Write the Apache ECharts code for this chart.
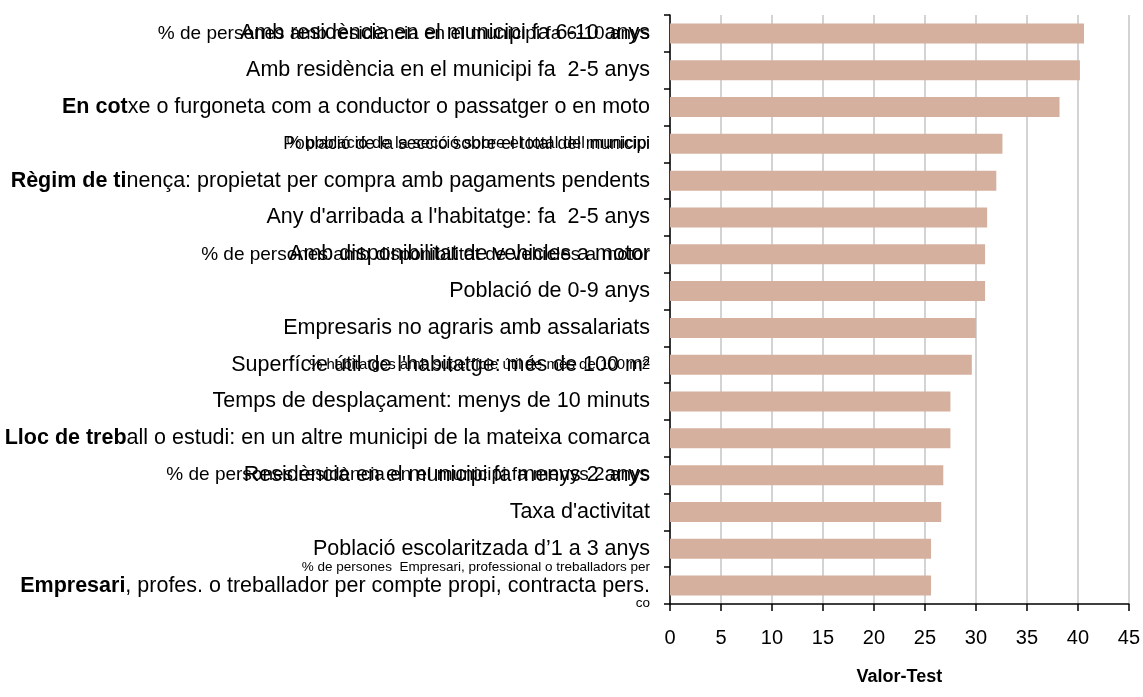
<!DOCTYPE html>
<html>
<head>
<meta charset="utf-8">
<script src="https://cdn.jsdelivr.net/npm/echarts@6/dist/echarts.min.js"></script>
<style>
  html, body { margin: 0; padding: 0; background: #fff; }
  #chart { width: 1143px; height: 697px; }
</style>
</head>
<body>
<div id="chart"></div>
<script>
// categories, top to bottom
var categories = [
  'Amb residència en el municipi fa 6-10 anys',
  'Amb residència en el municipi fa  2-5 anys',
  'En cotxe o furgoneta com a conductor o passatger o en moto',
  'Població de la secció sobre el total del municipi',
  'Règim de tinença: propietat per compra amb pagaments pendents',
  "Any d'arribada a l'habitatge: fa  2-5 anys",
  'Amb disponibilitat de vehicles a motor',
  'Població de 0-9 anys',
  'Empresaris no agraris amb assalariats',
  "Superfície útil de l'habitatge: més de 100 m²",
  'Temps de desplaçament: menys de 10 minuts',
  'Lloc de treball o estudi: en un altre municipi de la mateixa comarca',
  'Residència en el municipi fa menys 2 anys',
  "Taxa d'activitat",
  'Població escolaritzada d’1 a 3 anys',
  'Empresari, profes. o treballador per compte propi, contracta pers.'
];
// second label layer that sits under the main labels
var subLabels = [
  '% de persones amb residència en el municipi fa 6-10 anys',
  '',
  '',
  '% població de la secció sobre el total del municipi',
  '',
  '',
  '% de persones amb disponibilitat de vehicles a motor',
  '',
  '',
  '% habitatges amb superfície útil de més de 100 m2',
  '',
  '',
  '% de persones residència en el municipi fa menys 2 anys',
  '',
  '',
  '% de persones  Empresari, professional o treballadors per\nco'
];
var values = [40.6, 40.2, 38.2, 32.6, 32.0, 31.1, 30.9, 30.9, 30.0, 29.6, 27.5, 27.5, 26.8, 26.6, 25.6, 25.6];
var xTicks = [0, 45, 5];

var boldStart = { 2: 6, 4: 11, 11: 12, 15: 9 };
var bigSmall = { 3: 1 };
var subSmall = { 3: 'm', 9: 's', 15: 'x' };
var font = "'Liberation Sans', Arial, sans-serif";

var chart = echarts.init(document.getElementById('chart'));
var option = {
  animation: false,
  grid: { left: 670, right: 12, top: 15, bottom: 93, containLabel: false },
  xAxis: {
    type: 'value',
    min: xTicks[0],
    max: xTicks[1],
    interval: xTicks[2],
    name: 'Valor-Test',
    nameLocation: 'middle',
    nameGap: 64,
    nameTextStyle: { fontFamily: font, fontSize: 18, fontWeight: 'bold', color: '#000' },
    axisLine: { show: true, lineStyle: { color: '#000', width: 1.5 } },
    axisTick: { show: true, length: 7, lineStyle: { color: '#000', width: 1.5 } },
    axisLabel: { fontFamily: font, fontSize: 20, color: '#000', margin: 24 },
    splitLine: { show: true, lineStyle: { color: '#c4c4c4', width: 1.5 } }
  },
  yAxis: [
    {
      type: 'category',
      inverse: true,
      data: categories,
      axisLine: { show: true, lineStyle: { color: '#000', width: 1.5 } },
      axisTick: { show: true, inside: false, length: 6, lineStyle: { color: '#000', width: 1.5 } },
      axisLabel: {
        margin: 20,
        interval: 0,
        fontFamily: font,
        fontSize: 21.5,
        color: '#000',
        formatter: function (v, i) {
          var n = boldStart[i];
          if (n) return '{b|' + v.slice(0, n) + '}' + v.slice(n);
          if (bigSmall[i]) return '{m|' + v + '}';
          return v;
        },
        rich: {
          b: { fontFamily: font, fontSize: 21.5, fontWeight: 'bold', color: '#000' },
          m: { fontFamily: font, fontSize: 17.5, color: '#000' }
        }
      }
    },
    {
      type: 'category',
      inverse: true,
      position: 'left',
      data: subLabels,
      axisLine: { show: false },
      axisTick: { show: false },
      splitLine: { show: false },
      axisLabel: {
        margin: 20,
        interval: 0,
        fontFamily: font,
        fontSize: 19,
        color: '#000',
        formatter: function (v, i) {
          if (!v) return '';
          var k = subSmall[i];
          if (k) {
            return v.split('\n').map(function (s) { return '{' + k + '|' + s + '}'; }).join('\n');
          }
          return v;
        },
        rich: {
          s: { fontFamily: font, fontSize: 15, color: '#000' },
          x: { fontFamily: font, fontSize: 13.5, lineHeight: 36, color: '#000' },
          m: { fontFamily: font, fontSize: 16.5, color: '#000' }
        }
      }
    }
  ],
  series: [{
    type: 'bar',
    yAxisIndex: 0,
    data: values,
    barWidth: 20,
    itemStyle: { color: '#d6b09e' }
  }]
};
chart.setOption(option);
</script>
</body>
</html>
